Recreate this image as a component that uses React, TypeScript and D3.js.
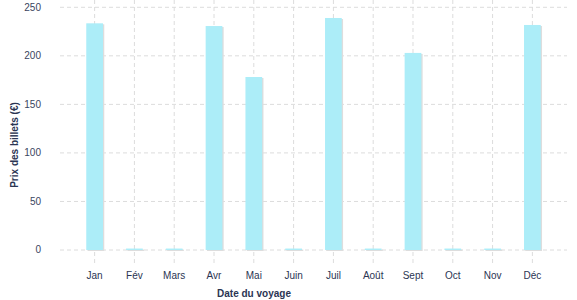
import React from "react";
import * as d3 from "d3";

const months = ["Jan", "Fév", "Mars", "Avr", "Mai", "Juin", "Juil", "Août", "Sept", "Oct", "Nov", "Déc"];
const prices = [233.5, 1.5, 1.5, 230.7, 178.2, 1.5, 239, 1.5, 203, 1.5, 1.5, 231.8];
const yTicks = [0, 50, 100, 150, 200, 250];

const W = 577;
const H = 300;
const left = 60;
const right = 567;
const top = 7.3;
const bottom = 250;

export default function App() {
  const x = d3.scaleBand<string>().domain(months).range([left, right]).paddingInner(0.58).paddingOuter(0.66);
  const y = d3.scaleLinear().domain([0, 250]).range([bottom, top]);
  const font = "'Liberation Sans', Arial, sans-serif";
  const textColor = "#2b3553";
  return (
    <svg width={W} height={H} style={{ position: "absolute", left: 0, top: 0 }} fontFamily={font}>
      {yTicks.map((t) => (
        <g key={t}>
          <line x1={left} x2={right} y1={y(t)} y2={y(t)} stroke="#dcdcdc" strokeDasharray="4,3" />
          <text x={41} y={y(t)} dy="0.34em" textAnchor="end" fontSize={10} fill="#3a4560">
            {t}
          </text>
        </g>
      ))}
      {months.map((m) => {
        const cx = (x(m) as number) + x.bandwidth() / 2;
        return (
          <g key={m}>
            <line x1={cx} x2={cx} y1={0} y2={263} stroke="#dcdcdc" strokeDasharray="4,3" />
            <text x={cx} y={278.5} textAnchor="middle" fontSize={10} fill={textColor}>
              {m}
            </text>
          </g>
        );
      })}
      {months.map((m, i) => {
        const bx = x(m) as number;
        const by = y(prices[i]);
        const bh = y(0) - by;
        return (
          <g key={"b" + m}>
            <rect x={bx + 1.3} y={by + 1} width={x.bandwidth()} height={bh} fill="#dddddd" />
            <rect x={bx} y={by} width={x.bandwidth()} height={bh} fill="#acedf8" />
          </g>
        );
      })}
      <text x={254} y={296.5} textAnchor="middle" fontSize={10} fontWeight="bold" fill={textColor}>
        Date du voyage
      </text>
      <text
        transform={`translate(17.5,145) rotate(-90)`}
        textAnchor="middle"
        fontSize={10}
        fontWeight="bold"
        fill={textColor}
      >
        Prix des billets (€)
      </text>
    </svg>
  );
}
